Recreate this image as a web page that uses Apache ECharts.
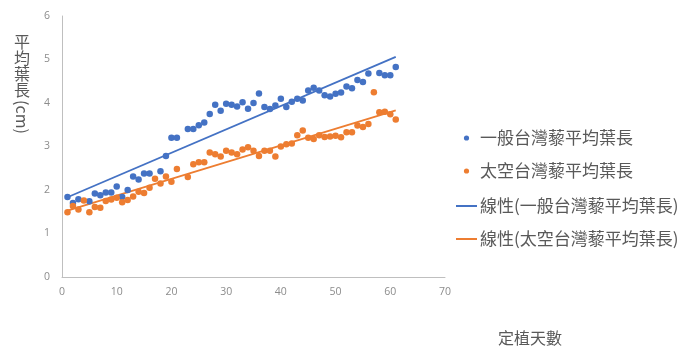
<!DOCTYPE html>
<html>
<head>
<meta charset="utf-8">
<script src="https://cdn.jsdelivr.net/npm/echarts@6/dist/echarts.min.js"></script>
<style>
  html, body { margin: 0; padding: 0; background: #fff; }
  #chart { width: 690px; height: 349px; }
</style>
</head>
<body>
<div id="chart"></div>
<script>
// 定植天數 (days after planting)
const days = [
  1, 2, 3, 4, 5, 6, 7, 8, 9, 10,
  11, 12, 13, 14, 15, 16, 17, 18, 19, 20,
  21, 22, 23, 24, 25, 26, 27, 28, 29, 30,
  31, 32, 33, 34, 35, 36, 37, 38, 39, 40,
  41, 42, 43, 44, 45, 46, 47, 48, 49, 50,
  51, 52, 53, 54, 55, 56, 57, 58, 59, 60, 61
];

// 一般台灣藜平均葉長 (cm); null = no measurement that day
const normalLeaf = [
  1.84, 1.70, 1.79, null, 1.74, 1.92, 1.88, 1.94, 1.94, 2.08,
  1.84, 2.00, 2.31, 2.24, 2.38, 2.38, null, 2.43, 2.78, 3.20,
  3.20, null, 3.40, 3.40, 3.49, 3.55, 3.75, 3.96, 3.82, 3.98,
  3.96, 3.92, 4.02, 3.87, 4.00, 4.22, 3.91, 3.86, 3.94, 4.10,
  3.91, 4.03, 4.10, 4.06, 4.29, 4.35, 4.29, 4.18, 4.15, 4.21,
  4.24, 4.38, 4.34, 4.53, 4.48, 4.68, null, 4.69, 4.64, 4.64, 4.83
];

// 太空台灣藜平均葉長 (cm)
const spaceLeaf = [
  1.49, 1.63, 1.55, 1.76, 1.49, 1.61, 1.59, 1.75, 1.78, 1.82,
  1.72, 1.77, 1.85, 1.96, 1.93, 2.05, 2.26, 2.15, 2.31, 2.19,
  2.48, null, 2.30, 2.59, 2.64, 2.64, 2.86, 2.82, 2.77, 2.90,
  2.86, 2.82, 2.93, 2.98, 2.90, 2.78, 2.90, 2.90, 2.77, 3.00,
  3.05, 3.07, 3.26, 3.37, 3.20, 3.17, 3.26, 3.22, 3.23, 3.25,
  3.21, 3.33, 3.33, 3.48, 3.45, 3.52, 4.25, 3.79, 3.80, 3.74, 3.62
];

const seriesNames = [
  '一般台灣藜平均葉長',
  '太空台灣藜平均葉長',
  '線性(一般台灣藜平均葉長)',
  '線性(太空台灣藜平均葉長)'
];
const xTitle = '定植天數';
const yTitleChars = ['平', '均', '葉', '長'];
const yTitleUnit = '(cm)';

const BLUE = '#4472C4';
const ORANGE = '#ED7D31';
const TEXT = '#595959';
const CJK = '"Noto Sans CJK TC", "Noto Sans CJK SC", sans-serif';

function pairs(xs, ys) {
  const out = [];
  xs.forEach((x, i) => { if (ys[i] !== null) out.push([x, ys[i]]); });
  return out;
}

// Least-squares linear trend over the measured points, drawn across the day range
function trend(pts) {
  const n = pts.length;
  let sx = 0, sy = 0, sxx = 0, sxy = 0;
  pts.forEach(([x, y]) => { sx += x; sy += y; sxx += x * x; sxy += x * y; });
  const b = (n * sxy - sx * sy) / (n * sxx - sx * sx);
  const a = (sy - b * sx) / n;
  const x0 = days[0], x1 = days[days.length - 1];
  return [[x0, a + b * x0], [x1, a + b * x1]];
}

const normalPts = pairs(days, normalLeaf);
const spacePts = pairs(days, spaceLeaf);

const chart = echarts.init(document.getElementById('chart'), null, { renderer: 'canvas' });

// Legend drawn as graphic rows on the right
const legendRows = [
  { y: 138, kind: 'dot', color: BLUE, text: seriesNames[0] },
  { y: 171, kind: 'dot', color: ORANGE, text: seriesNames[1] },
  { y: 206, kind: 'line', color: BLUE, text: seriesNames[2] },
  { y: 239, kind: 'line', color: ORANGE, text: seriesNames[3] }
];
const legendGraphics = [];
legendRows.forEach(r => {
  if (r.kind === 'dot') {
    legendGraphics.push({ type: 'circle', shape: { cx: 466.5, cy: r.y, r: 2.6 }, style: { fill: r.color } });
  } else {
    legendGraphics.push({ type: 'line', shape: { x1: 456, y1: r.y, x2: 477, y2: r.y }, style: { stroke: r.color, lineWidth: 2 } });
  }
  legendGraphics.push({
    type: 'text', x: 480, y: r.y,
    style: { text: r.text, fill: TEXT, font: '17px ' + CJK, textVerticalAlign: 'middle', textAlign: 'left' }
  });
});

// Vertical y-axis title: upright CJK characters, unit turned sideways
const yTitleGraphics = yTitleChars.map((ch, i) => ({
  type: 'text', x: 22, y: 42 + i * 16,
  style: { text: ch, fill: TEXT, font: '16px ' + CJK, textAlign: 'center', textVerticalAlign: 'middle' }
}));
yTitleGraphics.push({
  type: 'text', x: 22, y: 117, rotation: -Math.PI / 2,
  style: { text: yTitleUnit, fill: TEXT, font: '16px ' + CJK, textAlign: 'center', textVerticalAlign: 'middle' }
});

chart.setOption({
  animation: false,
  backgroundColor: '#ffffff',
  grid: { left: 62, right: 245, top: 16, bottom: 72, containLabel: false },
  xAxis: {
    type: 'value', min: 0, max: 70, interval: 10,
    axisLine: { show: true, lineStyle: { color: '#bfbfbf', width: 1 } },
    axisTick: { show: false },
    splitLine: { show: false },
    axisLabel: { color: '#8c8c8c', fontSize: 10.5, margin: 10, fontFamily: 'Open Sans, sans-serif' }
  },
  yAxis: {
    type: 'value', min: 0, max: 6, interval: 1,
    axisLine: { show: true, lineStyle: { color: '#bfbfbf', width: 1 } },
    axisTick: { show: false },
    splitLine: { show: false },
    axisLabel: { color: '#8c8c8c', fontSize: 10.5, margin: 12, fontFamily: 'Open Sans, sans-serif' }
  },
  series: [
    {
      name: seriesNames[2], type: 'line', data: trend(normalPts),
      showSymbol: false, lineStyle: { color: BLUE, width: 1.8 }, z: 2
    },
    {
      name: seriesNames[3], type: 'line', data: trend(spacePts),
      showSymbol: false, lineStyle: { color: ORANGE, width: 1.8 }, z: 2
    },
    {
      name: seriesNames[0], type: 'scatter', data: normalPts,
      symbolSize: 6.5, itemStyle: { color: BLUE, opacity: 1 }, z: 3
    },
    {
      name: seriesNames[1], type: 'scatter', data: spacePts,
      symbolSize: 6.5, itemStyle: { color: ORANGE, opacity: 1 }, z: 3
    }
  ],
  graphic: [
    ...legendGraphics,
    ...yTitleGraphics,
    {
      type: 'text', x: 530, y: 338,
      style: { text: xTitle, fill: TEXT, font: '16px ' + CJK, textAlign: 'center', textVerticalAlign: 'middle' }
    }
  ]
});
</script>
</body>
</html>
